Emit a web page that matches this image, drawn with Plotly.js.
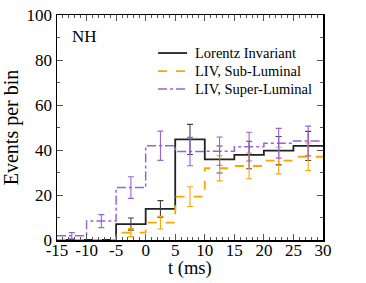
<!DOCTYPE html>
<html><head><meta charset="utf-8">
<script src="https://cdn.plot.ly/plotly-3.0.1.min.js"></script>
<style>html,body{margin:0;padding:0;background:#fff}#c{width:366px;height:283px}</style>
</head><body><div id="c"></div>
<script>
// bin edges (ms) and bin centers
var binEdges = [-15, -10, -5, 0, 5, 10, 15, 20, 25, 30];
var binCenters = [-12.5, -7.5, -2.5, 2.5, 7.5, 12.5, 17.5, 22.5, 27.5];

// events per bin
var lorentzInv = [0, 0, 7.1, 13.8, 44.7, 35.8, 37.8, 39.7, 41.8];
var lorentzErr = [0, 0, 2.7, 3.7, 6.7, 6.0, 6.1, 6.3, 6.5];
var subLum = [0, 0, 3.3, 7.7, 19.3, 31.9, 32.9, 35.3, 37.0];
var subErr = [0, 0, 1.8, 2.8, 4.4, 5.6, 5.7, 5.9, 6.1];
var superLum = [1.9, 8.4, 23.3, 41.9, 39.3, 39.5, 41.5, 43.0, 44.0];
var superErr = [1.4, 2.9, 4.8, 6.5, 6.3, 6.3, 6.4, 6.6, 6.6];

var seriesNames = ["Lorentz Invariant", "LIV, Sub-Luminal", "LIV, Super-Luminal"];
var xTickVals = [-15, -10, -5, 0, 5, 10, 15, 20, 25, 30];
var xTickText = ["-15", "-10", "-5", "0", "5", "10", "15", "20", "25", "30"];
var yTickVals = [0, 20, 40, 60, 80, 100];
var yTickText = ["0", "20", "40", "60", "80", "100"];

var cBlack = "#222222", cOrange = "#FFA500", cPurple = "#9A62D8";
var styles = [
  {color:cBlack, width:1.8, dash:"solid"},
  {color:cOrange, width:1.8, dash:"dash"},
  {color:cPurple, width:1.5, dash:"dashdot"}
];

function stepY(v){ return v.concat([v[v.length-1]]); }
function errTrace(x, y, e, col){
  var xs=[], ys=[], es=[];
  for (var i=0;i<x.length;i++){ if(y[i]>0){ xs.push(x[i]); ys.push(y[i]); es.push(e[i]); } }
  return {x:xs, y:ys, type:"scatter", mode:"markers", marker:{size:0.1, color:col, opacity:0},
    error_y:{type:"data", array:es, visible:true, color:col, thickness:1.1, width:3},
    showlegend:false, hoverinfo:"skip"};
}

var series = [lorentzInv, subLum, superLum];
var traces = [];
for (var k=0;k<3;k++){
  traces.push({x:binEdges, y:stepY(series[k]), type:"scatter", mode:"lines",
    line:{shape:"hv", color:styles[k].color, width:styles[k].width, dash:styles[k].dash},
    name:seriesNames[k], showlegend:false});
}
traces.push(errTrace(binCenters, lorentzInv, lorentzErr, "#444444"));
traces.push(errTrace(binCenters, subLum, subErr, cOrange));
traces.push(errTrace(binCenters, superLum, superErr, cPurple));

var fontFam = "'Liberation Serif', 'Times New Roman', serif";

// legend drawn as shapes + annotations in paper coordinates
var legY = [0.831, 0.751, 0.671];
var shapes = [], annotations = [];
for (var k=0;k<3;k++){
  shapes.push({type:"line", xref:"paper", yref:"paper", x0:0.38, x1:0.489, y0:legY[k], y1:legY[k],
    line:{color:styles[k].color, width:styles[k].width, dash:styles[k].dash}});
  annotations.push({text:seriesNames[k], xref:"paper", yref:"paper", x:0.511, y:legY[k], xanchor:"left", yanchor:"middle",
    showarrow:false, font:{size:14.5, family:fontFam, color:"#000"}});
}
annotations.push({text:"NH", x:0.105, y:0.905, xref:"paper", yref:"paper", xanchor:"center", yanchor:"middle", showarrow:false, font:{size:17, family:fontFam}});
annotations.push({text:"t (ms)", x:0.5, y:-0.125, xref:"paper", yref:"paper", xanchor:"center", yanchor:"middle", showarrow:false, borderpad:0, font:{size:18.5, family:fontFam}});

var layout = {
  width:366, height:283,
  margin:{l:57, r:43, t:15, b:43},
  paper_bgcolor:"#fff", plot_bgcolor:"#fff",
  font:{family:fontFam, color:"#000", size:17},
  showlegend:false,
  xaxis:{range:[-15,30], tickvals:xTickVals, ticktext:xTickText, ticks:"inside", ticklen:6, tickwidth:1, tickcolor:"#555",
    showline:true, linecolor:"#000", linewidth:1.5, mirror:"ticks", showgrid:false, zeroline:false,
    minor:{dtick:1, ticks:"inside", ticklen:3, tickcolor:"#555", showgrid:false},
    tickfont:{size:17, family:fontFam}, ticklabelstandoff:-6},
  yaxis:{range:[0,100], tickvals:yTickVals, ticktext:yTickText, ticks:"inside", ticklen:6, tickwidth:1, tickcolor:"#555",
    showline:true, linecolor:"#000", linewidth:1.5, mirror:"ticks", showgrid:false, zeroline:false,
    minor:{dtick:10, ticks:"inside", ticklen:3, tickcolor:"#555", showgrid:false},
    tickfont:{size:17, family:fontFam}, title:{text:"Events per bin", font:{size:20, family:fontFam}, standoff:4}},
  shapes:shapes,
  annotations:annotations
};
Plotly.newPlot("c", traces, layout, {staticPlot:true, displayModeBar:false});
</script></body></html>
